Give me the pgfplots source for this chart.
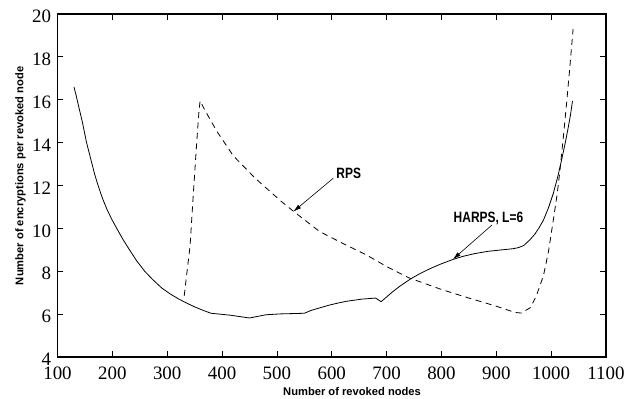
\documentclass[border=0pt]{standalone}
\usepackage{fontspec}
\setmainfont{Liberation Serif}
\newfontfamily\lblfont{Liberation Sans}
\newfontfamily\annfont[FakeStretch=0.8]{Liberation Sans}
\usepackage{pgfplots}
\pgfplotsset{compat=1.18}
\usetikzlibrary{arrows.meta}
\begin{document}
\begin{tikzpicture}
\begin{axis}[
  scale only axis,
  width=548.5bp, height=343bp,
  xmin=100, xmax=1100, ymin=4, ymax=20,
  xtick={100,200,...,1100},
  ytick={4,6,...,20},
  tick align=inside,
  major tick length=6bp,
  tick style={line width=0.8bp, black},
  axis line style={line width=1.2bp},
  /pgf/number format/assume math mode=true,
  /pgf/number format/1000 sep={},
  ticklabel style={font=\fontsize{19}{19}\selectfont},
  xticklabel style={yshift=-6.5bp},
  yticklabel style={xshift=-3bp, yshift=-2.5bp},
  xlabel={\lblfont\bfseries\fontsize{11.2}{12}\selectfont Number of revoked nodes},
  xlabel style={at={(rel axis cs:0.537,0)}, anchor=base, yshift=-38.3bp},
  ylabel={\lblfont\bfseries\fontsize{11.2}{12}\selectfont Number of encryptions per revoked node},
  ylabel style={at={(rel axis cs:-0.0624,0.528)}, anchor=base},
  clip=false,
]
\coordinate (O) at (rel axis cs:0,0);
% HARPS, L=6
\addplot[black, line width=0.8bp] coordinates {
(130,16.6)(134,16.2)(138,15.75)(145,15.0)(153,14.0)(158,13.5)(163,13.0)(168,12.5)(174,12.0)
(182,11.4)(190,10.9)(199,10.42)(208,10.0)(219,9.5)(230,9.05)(244,8.5)(259,8.0)(274,7.6)
(290,7.22)(305,6.95)(320,6.72)(335,6.52)(350,6.34)(365,6.18)(380,6.04)(415,5.95)(450,5.82)
(480,5.97)(506,6.01)(550,6.04)(562,6.17)(575,6.27)(597,6.43)(612,6.52)(627,6.6)(655,6.7)(680,6.75)
(690,6.58)(700,6.8)(710,7.02)(724,7.3)(743,7.63)(760,7.88)(780,8.13)(800,8.35)(822,8.56)(840,8.7)
(860,8.82)(885,8.93)(911,9.0)(930,9.05)(940,9.1)(950,9.2)(961,9.46)(970,9.72)(978,10.03)(986,10.39)
(995,10.95)(1004,11.64)(1012,12.4)(1019,13.19)(1025,13.9)(1030,14.55)(1035,15.25)(1039,15.95)
};
% RPS
\addplot[black, line width=0.8bp, dash pattern=on 6bp off 4.5bp] coordinates {
(331,6.85)(336,7.95)(341.6,9.15)(347.6,11.6)(353.8,14.0)(358,15.5)(360,15.95)
(369,15.5)(390,14.55)(420,13.4)(460,12.35)(506,11.3)(530,10.8)(578,9.85)
(620,9.3)(664,8.75)(700,8.22)(740,7.7)(800,7.15)(850,6.75)(900,6.37)(934,6.08)
(945,6.05)(952,6.15)(962,6.3)(973,6.85)(986,7.8)(995,8.9)(1004,10.4)(1011,11.6)
(1016,12.7)(1022,14.2)(1028,15.8)(1034,17.5)(1040,19.3)
};
\draw[line width=0.6bp, -{Latex[length=8bp,width=4.5bp]}] (axis cs:602.8,12.34) -- (axis cs:529.9,10.78);
\node[font=\annfont\bfseries\fontsize{15}{15}\selectfont, inner sep=0pt] at (axis cs:631,12.58) {RPS};
\draw[line width=0.6bp, -{Latex[length=8bp,width=4.5bp]}] (axis cs:892.2,10.16) -- (axis cs:821,8.56);
\node[font=\annfont\bfseries\fontsize{15}{15}\selectfont, inner sep=0pt] at (axis cs:885.7,10.47) {HARPS, L=6};
\end{axis}
\pgfresetboundingbox
\path (O) ++(-57.5bp,-42bp) rectangle ++(637bp,399bp);
\end{tikzpicture}
\end{document}
